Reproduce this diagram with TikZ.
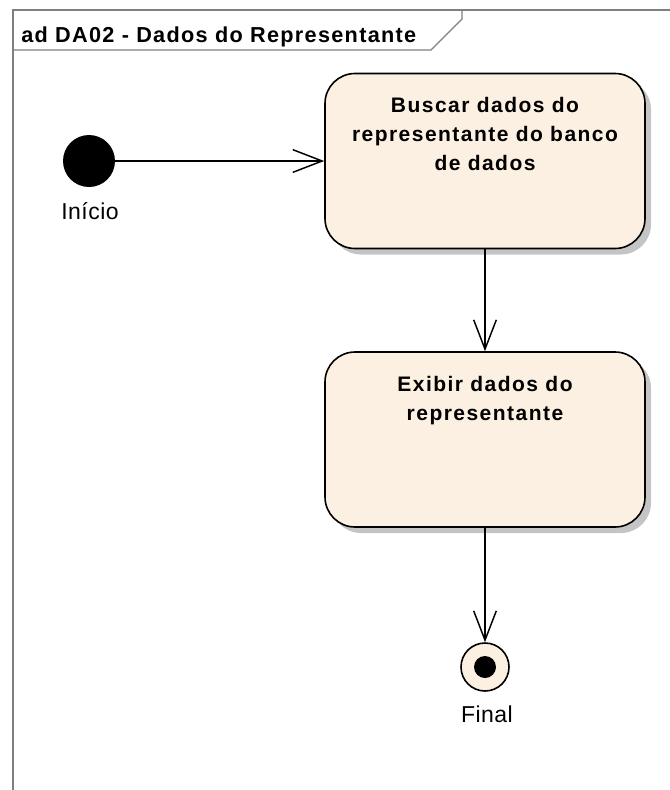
\documentclass[tikz,border=0pt]{standalone}
\usepackage{fontspec}
\setmainfont{Liberation Sans}
\newfontfamily\fonteacao[LetterSpace=7]{Liberation Sans}
\newfontfamily\fontetitulo[LetterSpace=6]{Liberation Sans}
\newfontfamily\fonterotulo[LetterSpace=2]{Liberation Sans}
\usepackage{tikz}
\usepackage{xcolor}
\usetikzlibrary{arrows.meta,positioning,shadows}
\definecolor{creme}{HTML}{FBF0E1}
\definecolor{cinzamoldura}{HTML}{7F7F7F}

\tikzset{
	moldura/.style={draw=cinzamoldura, line width=0.9pt},
	acao/.style={draw, line width=1.2pt, fill=creme, rounded corners=22.5pt,
		minimum width=240pt, minimum height=131.25pt,
		drop shadow={opacity=1, fill=black!23, shadow xshift=4.5pt, shadow yshift=-4.5pt}},
	texto/.style={anchor=north, inner sep=0pt, yshift=-18.5pt, align=center,
		font=\fontsize{15.75}{21.75}\selectfont\fonteacao\bfseries},
	inicial/.style={circle, fill=black, minimum size=39pt, inner sep=0pt},
	estadofinal/.style={circle, draw, line width=1.2pt, fill=creme, minimum size=36pt, inner sep=0pt,
		path picture={\fill[black] (path picture bounding box.center) circle (8.25pt);}},
	rotulo/.style={anchor=base, inner sep=0pt, font=\fontsize{17.25}{20}\selectfont\fonterotulo},
	seta/.style={-{Straight Barb[length=22pt, width=17pt]}, line width=1.1pt}
}

\begin{document}
\begin{tikzpicture}[x=0.75pt, y=-0.75pt]
	\useasboundingbox (0,0) rectangle (670,790);
	% moldura do diagrama
	\draw[moldura] (13,790) |- (670,10);
	\draw[moldura] (13,50) -- (431,50) -- (462,19) -- (462,10);
	\node[anchor=base west, inner sep=0pt, font=\fontsize{16.25}{20}\selectfont\fontetitulo\bfseries] (titulo) at (21,42) {ad DA02 - Dados do Representante};

	\node[inicial] (inicio) at (89,161) {};
	\node[rotulo] (inicioLbl) at (90,219) {Início};

	\node[acao, label={[texto]north:{Buscar dados do\\representante do banco\\de dados}}] (busca) at (485,161) {};
	\node[acao, label={[texto]north:{Exibir dados do\\representante}}] (exibir) at (485,439.5) {};

	\node[estadofinal] (fim) at (485,667) {};
	\node[rotulo] (fimLbl) at (487,722) {Final};

	\draw[seta] (inicio) -- (busca.west);
	\draw[seta] (busca.south) -- (exibir.north);
	\draw[seta] (exibir.south) -- (fim.north);
\end{tikzpicture}
\end{document}
